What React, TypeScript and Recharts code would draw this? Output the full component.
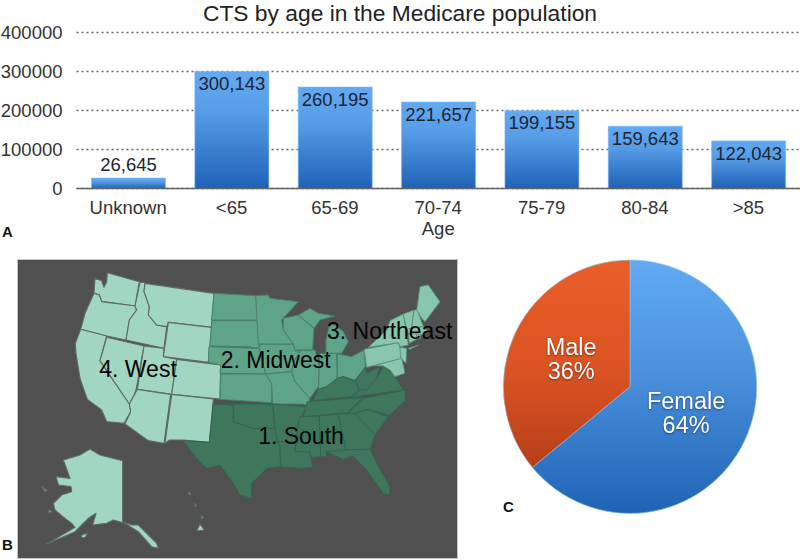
import React from 'react';
import {
  BarChart, Bar, XAxis, YAxis, CartesianGrid, LabelList, PieChart, Pie, Cell,
  ScatterChart, Scatter,
} from 'recharts';

const FONT = '"Liberation Sans", Arial, sans-serif';

// Panel A
const ageCategories = ['Unknown', '<65', '65-69', '70-74', '75-79', '80-84', '>85'];
const ageCounts = [26645, 300143, 260195, 221657, 199155, 159643, 122043];
const yTicks = [0, 100000, 200000, 300000, 400000];
const ageData = ageCategories.map((age, i) => ({ age, count: ageCounts[i] }));

// Panel C
const sexLabels = ['Female', 'Male'];
const sexShares = [64, 36];
const sexData = sexLabels.map((name, i) => ({ name, value: sexShares[i] }));

// Panel B: outline vertices in map units
type P = number[];
const west: Record<string, P[]> = {
  WA: [[322,68],[418,95],[405,168],[385,165],[345,160],[305,155],[298,135],[282,128],[285,85],[305,92],[312,112],[320,95]],
  OR: [[282,130],[298,135],[305,155],[345,160],[385,165],[405,168],[410,180],[388,210],[378,270],[320,258],[242,238],[255,190]],
  CA: [[242,238],[320,258],[300,332],[388,462],[392,485],[372,520],[320,515],[305,480],[262,448],[240,385],[228,310],[226,280]],
  NV: [[320,262],[432,288],[408,420],[400,440],[388,462],[300,332]],
  ID: [[420,97],[435,97],[432,125],[448,170],[445,195],[470,225],[500,230],[492,295],[378,270],[388,210],[410,180],[405,168]],
  MT: [[435,100],[642,130],[635,232],[505,217],[500,230],[470,225],[445,195],[448,170],[432,125]],
  WY: [[505,217],[635,232],[625,337],[490,320]],
  UT: [[432,288],[492,295],[490,320],[530,328],[515,433],[412,418]],
  CO: [[530,328],[662,345],[660,447],[515,433]],
  AZ: [[412,418],[512,433],[492,580],[445,572],[375,522],[392,485],[388,462],[400,440]],
  NM: [[515,433],[640,447],[628,577],[550,570],[508,570],[495,580]],
  AK: [[270,597],[300,615],[368,632],[368,815],[395,825],[415,825],[440,850],[470,880],[475,895],[455,890],[415,845],[375,820],[340,810],[320,820],[278,825],[288,790],[265,805],[245,825],[225,845],[140,882],[225,832],[215,820],[195,805],[165,780],[160,760],[185,735],[215,725],[213,710],[175,705],[168,680],[210,685],[190,630],[240,615]],
  AK2: [[125,710],[142,722],[135,724]],
  AK3: [[145,780],[156,784],[148,789]],
  AK4: [[245,855],[263,849],[256,862],[245,863]],
  HI1: [[600,822],[613,840],[590,843]],
  HI2: [[564,727],[572,730],[568,735]],
  HI3: [[583,760],[590,766],[586,770]],
  HI4: [[603,797],[610,802],[605,806]],
};
const midwest: Record<string, P[]> = {
  ND: [[-18,130],[107,137],[115,210],[-25,210]],
  SD: [[-25,212],[115,212],[118,295],[80,290],[-30,288]],
  NE: [[-33,290],[118,295],[137,372],[0,370],[2,345],[-35,337]],
  KS: [[2,372],[137,372],[155,400],[155,458],[0,448]],
  MN: [[107,137],[145,135],[150,145],[235,155],[185,210],[190,240],[220,282],[115,282]],
  IA: [[118,283],[222,283],[240,303],[222,335],[215,365],[137,372],[118,295]],
  MO: [[137,372],[215,365],[225,395],[270,445],[265,470],[250,462],[158,462],[155,400]],
  WI: [[190,205],[235,195],[282,235],[278,300],[225,300],[220,282],[190,240]],
  IL: [[225,302],[285,300],[298,350],[295,410],[270,445],[225,395],[215,365],[222,335],[240,303]],
  IN: [[300,310],[350,310],[352,385],[320,410],[295,418],[298,350]],
  MI: [[318,270],[328,225],[345,225],[370,245],[385,275],[365,310],[318,310]],
  MI2: [[235,195],[270,175],[295,190],[345,198],[300,210],[282,235]],
  OH: [[352,312],[395,320],[432,300],[437,350],[405,392],[370,380],[352,385]],
};
const south: Record<string, P[]> = {
  TX: [[-20,462],[40,465],[40,515],[100,535],[165,535],[172,575],[180,590],[182,650],[140,655],[95,700],[95,745],[60,735],[40,700],[0,645],[-40,655],[-70,625],[-110,572],[-32,577]],
  OK: [[-20,462],[158,462],[165,535],[100,535],[40,515],[40,465]],
  AR: [[158,462],[260,470],[235,520],[228,575],[172,575],[165,535]],
  LA: [[172,575],[228,575],[225,605],[270,605],[278,652],[240,655],[182,650],[180,590]],
  MS: [[240,500],[298,498],[302,620],[272,622],[270,605],[225,605],[228,575],[235,520]],
  AL: [[298,498],[355,492],[378,600],[318,605],[320,620],[302,620]],
  GA: [[355,492],[405,490],[465,555],[450,600],[378,600]],
  FL: [[318,605],[378,600],[450,597],[470,640],[510,710],[508,735],[490,730],[440,660],[400,618],[370,628],[340,615]],
  SC: [[405,490],[440,478],[505,500],[465,555]],
  NC: [[385,488],[430,445],[555,420],[557,450],[510,495],[440,478],[405,490]],
  TN: [[262,455],[430,442],[382,488],[250,500]],
  KY: [[280,450],[295,418],[320,410],[352,385],[370,380],[405,392],[418,420],[395,440],[270,452]],
  VA: [[418,420],[440,415],[470,385],[490,350],[520,372],[550,420],[395,442]],
  WV: [[405,392],[437,350],[440,370],[480,350],[470,385],[440,420],[418,420]],
};
const northeast: Record<string, P[]> = {
  PA: [[432,298],[535,278],[550,325],[440,352]],
  NY: [[445,292],[500,240],[510,212],[550,192],[560,250],[565,285],[540,290],[535,278]],
  VT: [[550,192],[582,180],[575,235],[560,240]],
  NH: [[582,180],[592,180],[610,230],[575,235]],
  ME: [[590,180],[600,110],[625,105],[660,155],[615,215],[605,205]],
  MA: [[562,237],[610,230],[625,245],[605,255],[565,250]],
  CT: [[565,252],[590,250],[590,268],[568,280]],
  RI: [[590,250],[603,255],[600,265],[590,268]],
  NJ: [[540,292],[560,295],[558,340],[542,325]],
  MD: [[462,347],[545,325],[555,370],[540,375],[525,380],[510,360],[490,348]],
  LI: [[565,295],[595,285],[570,298]],
};
const EAST_SHIFT = 660;
const regionLabels = [
  { name: '4. West', x: 414, y: 356 },
  { name: '2. Midwest', x: 827, y: 330 },
  { name: '3. Northeast', x: 1169, y: 243 },
  { name: '1. South', x: 903, y: 558 },
];

const toPoints = (pts: P[], shift = 0) => pts.map(([x, y]) => ({ x: x + shift, y }));

const polygon = (fill: string, stroke: string, strokeWidth: number) => (props: any) => {
  const d = props.points.map((p: any, i: number) => `${i ? 'L' : 'M'}${p.x} ${p.y}`).join(' ') + ' Z';
  return <path d={d} fill={fill} stroke={stroke} strokeWidth={strokeWidth} strokeLinejoin="round" />;
};
const NoDot = () => null;
const MapLabel = (props: any) => (
  <text x={props.cx} y={props.cy} dy="0.36em" textAnchor="middle" fontSize={23} fill="#050505" fontFamily={FONT}>
    {props.name}
  </text>
);

const groups = [
  { states: west, shift: 0, fill: '#a0d6c2', stroke: '#5f6b66', w: 1.1 },
  { states: midwest, shift: EAST_SHIFT, fill: '#5ea489', stroke: '#4a7f6b', w: 1 },
  { states: south, shift: EAST_SHIFT, fill: '#3f775d', stroke: '#356450', w: 1 },
  { states: northeast, shift: EAST_SHIFT, fill: '#88c6ad', stroke: '#5a8f7b', w: 0.9 },
];

const BarValue = (props: any) => {
  const { x, y, width, value } = props;
  const above = value < 50000;
  return (
    <text x={x + width / 2} y={above ? y - 14 : y + 12} dy="0.36em" textAnchor="middle" fontSize={18.5} fill="#1c2530" fontFamily={FONT}>
      {Number(value).toLocaleString('en-US')}
    </text>
  );
};

const PieValue = (props: any) => {
  const { cx, cy, midAngle, name, value } = props;
  const a = (-midAngle * Math.PI) / 180;
  const r = name === 'Male' ? 65 : 62;
  const x = cx + r * Math.cos(a);
  const y = cy + r * Math.sin(a);
  return (
    <text textAnchor="middle" fontSize={23.5} fill="#fff" fontFamily={FONT} style={{ filter: 'drop-shadow(0 1px 1px rgba(0,0,0,0.45))' }}>
      <tspan x={x} y={y - 4}>{name}</tspan>
      <tspan x={x} y={y + 20}>{value}%</tspan>
    </text>
  );
};

const panelLetter = (ch: string, left: number, top: number) => (
  <div style={{ position: 'absolute', left, top, fontFamily: FONT, fontWeight: 700, fontSize: 15, lineHeight: '16px', color: '#111' }}>{ch}</div>
);

export default function App() {
  return (
    <div style={{ position: 'absolute', left: 0, top: 0, width: 800, height: 560, background: '#fff', overflow: 'hidden', fontFamily: FONT }}>
      <div style={{ position: 'absolute', left: 0, width: 800, top: 0, textAlign: 'center', fontSize: 22.8, lineHeight: '26px', color: '#222' }}>
        CTS by age in the Medicare population
      </div>

      <div style={{ position: 'absolute', left: 0, top: 0 }}>
        <BarChart width={800} height={250} data={ageData} margin={{ top: 32.5, right: 0, bottom: 0, left: 0 }} barCategoryGap={0}>
          <defs>
            <linearGradient id="barFill" x1="0" y1="0" x2="0" y2="1">
              <stop offset="0" stopColor="#62a9f2" />
              <stop offset="0.35" stopColor="#569ce6" />
              <stop offset="1" stopColor="#1f62b8" />
            </linearGradient>
          </defs>
          <CartesianGrid vertical={false} stroke="#666" strokeWidth={1.4} strokeDasharray="2 3" />
          <XAxis
            dataKey="age"
            height={61.5}
            tickLine={false}
            tickSize={6}
            tickMargin={6}
            axisLine={{ stroke: '#666', strokeWidth: 1.6 }}
            tick={{ fontSize: 18.5, fill: '#333', fontFamily: FONT }}
            interval={0}
            label={{ value: 'Age', position: 'insideBottom', offset: 15, fontSize: 18.5, fill: '#333', fontFamily: FONT }}
          />
          <YAxis
            width={76.5}
            domain={[0, 400000]}
            ticks={yTicks}
            axisLine={false}
            tickLine={false}
            tickSize={6}
            tickMargin={8}
            interval={0}
            tick={{ fontSize: 18.5, fill: '#333', fontFamily: FONT }}
          />
          <Bar dataKey="count" barSize={74} fill="url(#barFill)" stroke="#79b6f4" strokeWidth={0.6} isAnimationActive={false}>
            <LabelList dataKey="count" content={BarValue} />
          </Bar>
        </BarChart>
      </div>

      <div style={{ position: 'absolute', left: 18, top: 260, width: 439, height: 298, background: '#505050', boxShadow: '0 0 0 1px #c4c4c4' }}>
        <ScatterChart width={439} height={298} margin={{ top: 0, right: 0, bottom: 0, left: 0 }}>
          <XAxis type="number" dataKey="x" domain={[54, 1371]} hide allowDataOverflow />
          <YAxis type="number" dataKey="y" domain={[30, 924]} reversed hide allowDataOverflow width={0} />
          {groups.flatMap((g) =>
            Object.keys(g.states).map((k) => (
              <Scatter
                key={k}
                data={toPoints(g.states[k], g.shift)}
                shape={NoDot}
                line={polygon(g.fill, g.stroke, g.w)}
                lineType="joint"
                isAnimationActive={false}
              />
            ))
          )}
          <Scatter data={regionLabels} shape={MapLabel} isAnimationActive={false} />
        </ScatterChart>
      </div>

      <div style={{ position: 'absolute', left: 460, top: 240 }}>
        <PieChart width={340} height={300} margin={{ top: 0, right: 0, bottom: 0, left: 0 }}>
          <defs>
            <linearGradient id="femaleFill" x1="0" y1="0" x2="0" y2="1">
              <stop offset="0" stopColor="#62aaf3" />
              <stop offset="0.45" stopColor="#4a90dc" />
              <stop offset="1" stopColor="#2063b6" />
            </linearGradient>
            <linearGradient id="maleFill" x1="0" y1="0" x2="0" y2="1">
              <stop offset="0" stopColor="#ea5e28" />
              <stop offset="0.5" stopColor="#dc5423" />
              <stop offset="1" stopColor="#b73f18" />
            </linearGradient>
          </defs>
          <Pie
            data={sexData}
            dataKey="value"
            nameKey="name"
            cx={170}
            cy={146.7}
            outerRadius={126.7}
            startAngle={90}
            endAngle={-270}
            stroke="#8fc3f3"
            strokeWidth={0.6}
            label={PieValue}
            labelLine={false}
            isAnimationActive={false}
          >
            <Cell fill="url(#femaleFill)" />
            <Cell fill="url(#maleFill)" />
          </Pie>
        </PieChart>
      </div>

      {panelLetter('A', 2, 224)}
      {panelLetter('B', 2, 537)}
      {panelLetter('C', 503, 499)}
    </div>
  );
}
